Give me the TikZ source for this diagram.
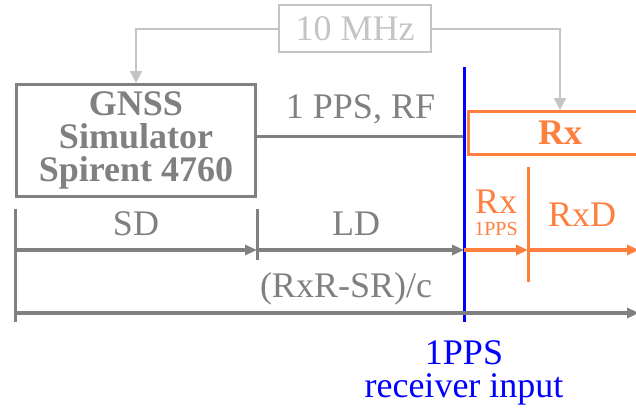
\documentclass[tikz,border=0pt]{standalone}
\usepackage{fontspec}
\setmainfont{LiberationSerif}[Extension=.ttf, UprightFont=*-Regular, BoldFont=*-Bold]
\usetikzlibrary{arrows.meta}

\definecolor{simgray}{RGB}{128,128,128}
\definecolor{refgray}{RGB}{196,196,196}
\definecolor{rxorange}{RGB}{255,127,63}
\definecolor{ppsblue}{RGB}{0,0,255}

\begin{document}
\begin{tikzpicture}[x=0.5pt,y=-0.5pt,
  big/.style={font=\fontsize{18}{16.5}\selectfont},
  tiny/.style={font=\fontsize{10}{10}\selectfont},
  reftip/.style={-{Triangle[length=6pt,width=6pt]}},
  timetip/.style={-{Triangle[length=6pt,width=5pt]}, line width=2pt}]
  \useasboundingbox (0,0) rectangle (636,412);

  % boxes
  \node[draw=refgray, line width=1pt, minimum width=76pt, minimum height=23.5pt,
        big, text=refgray] (ref) at (355,28.5) {10 MHz};
  \node[draw=simgray, line width=1.5pt, minimum width=119.5pt, minimum height=56pt,
        text=simgray, align=center, font=\fontsize{18}{16.5}\selectfont\bfseries]
        (sim) at (136,140.5) {GNSS\\Simulator\\Spirent 4760};
  \node[draw=rxorange, line width=1.5pt, minimum width=91.5pt, minimum height=21.5pt,
        text=rxorange, font=\fontsize{18}{16.5}\selectfont\bfseries]
        (rx) at (560,133) {Rx};

  % 10 MHz reference
  \draw[refgray, line width=1pt, reftip] (ref.west) -| (sim.north);
  \draw[refgray, line width=1pt, reftip] (ref.east) -| (rx.north);

  % receiver input
  \coordinate (ptop) at (464,67);
  \coordinate (pbot) at (464,322);
  \coordinate (rfin) at (464,136);
  \draw[simgray, line width=1.5pt] (sim.east |- rfin) -- (rfin)
    node[midway, above=2pt, big, text=simgray] (rflabel) {1 PPS, RF};
  \draw[ppsblue, line width=1.5pt] (ptop) -- (pbot)
    node[below=5pt, big, align=center, text=ppsblue] (ppslabel) {1PPS\\receiver input};

  % delays
  \coordinate (s0) at (15,250);
  \coordinate (s1) at (257,250);
  \coordinate (s2) at (464,250);
  \coordinate (s3) at (528,250);
  \coordinate (s4) at (639,250);
  \coordinate (b0) at (15,313);
  \coordinate (b1) at (639,313);
  \draw[simgray, line width=1.5pt] (15,209) -- (15,322);
  \draw[simgray, line width=1.5pt] (257,209) -- (257,260);
  \draw[rxorange, line width=1.5pt] (528,167) -- (528,282);
  \draw[simgray, timetip] (s0) -- (s1);
  \draw[simgray, timetip] (s1) -- (s2);
  \draw[rxorange, timetip] (s2) -- (s3);
  \draw[rxorange, timetip] (s3) -- (s4);
  \draw[simgray, timetip] (b0) -- (b1);

  \node[big, text=simgray, anchor=base] (sd) at (136,235) {SD};
  \node[big, text=simgray, anchor=base] (ld) at (356,235) {LD};
  \node[big, text=simgray, anchor=base] (path) at (346,297) {(RxR-SR)/c};
  \node[big, text=rxorange, anchor=base] (rxpps) at (496,213) {Rx};
  \node[tiny, text=rxorange, anchor=base] (rxppssub) at (496,235) {1PPS};
  \node[big, text=rxorange, anchor=base] (rxd) at (582,226) {RxD};
\end{tikzpicture}
\end{document}
